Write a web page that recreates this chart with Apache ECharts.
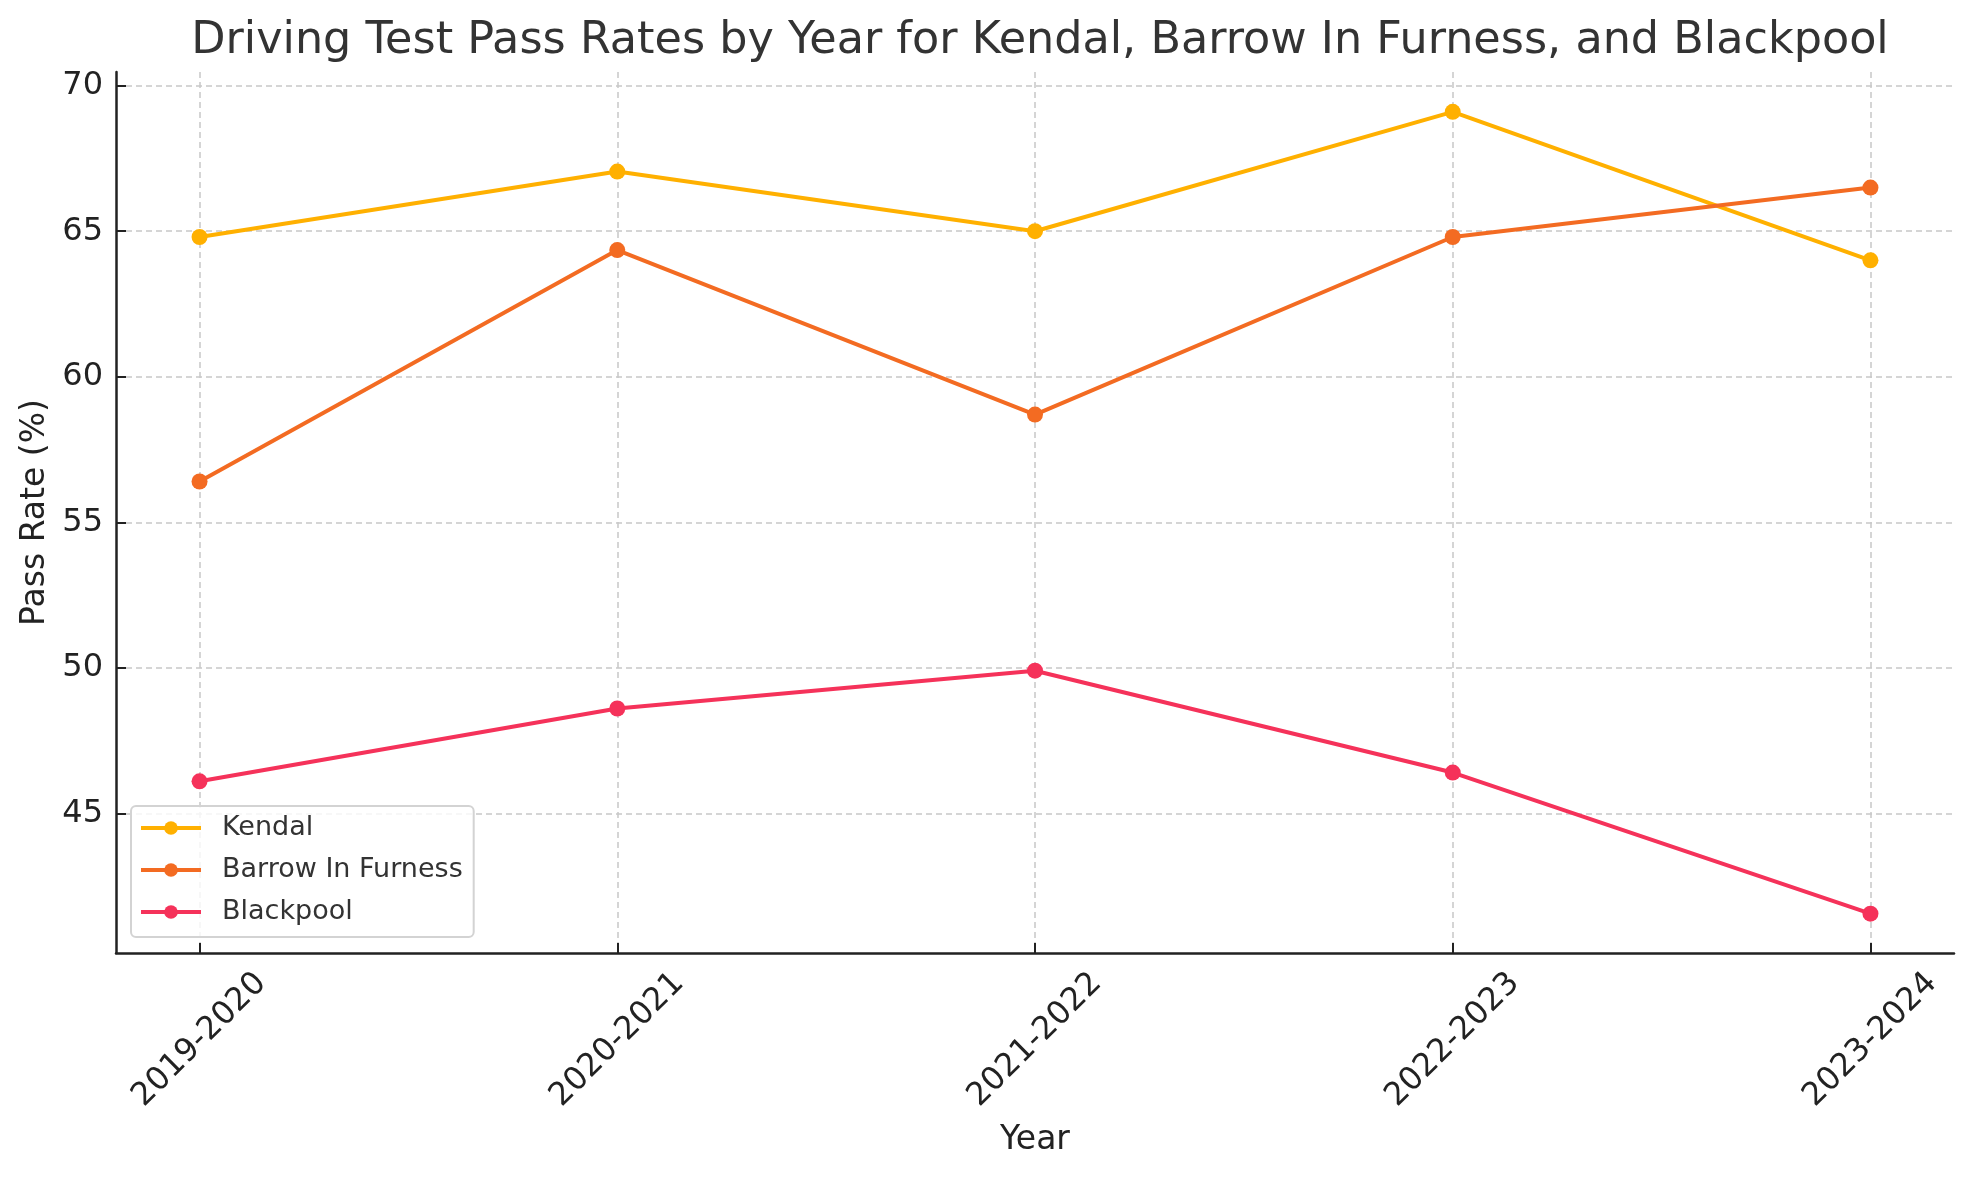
<!DOCTYPE html>
<html>
<head>
<meta charset="utf-8">
<script src="https://cdn.jsdelivr.net/npm/echarts@6/dist/echarts.min.js"></script>
<style>
  html, body { margin: 0; padding: 0; background: #fff; }
  #chart { width: 1974px; height: 1180px; }
</style>
</head>
<body>
<div id="chart"></div>
<script>
// data
const years = ['2019-2020', '2020-2021', '2021-2022', '2022-2023', '2023-2024'];
const kendal = [64.8, 67.05, 65.0, 69.1, 64.0];
const barrow = [56.4, 64.35, 58.7, 64.8, 66.5];
const blackpool = [46.1, 48.6, 49.9, 46.4, 41.55];
const yTicks = [45, 50, 55, 60, 65, 70];
const xTicks = [0, 1, 2, 3, 4];

const font = 'DejaVu Sans';
const colors = ['#ffb000', '#f36b22', '#f5325a'];

function toPoints(arr) {
  return arr.map((v, i) => [i, v]);
}

function makeSeries(name, arr, color) {
  return {
    name: name,
    type: 'line',
    data: toPoints(arr),
    symbol: 'circle',
    symbolSize: 16,
    lineStyle: { width: 4, color: color },
    itemStyle: { color: color },
    emphasis: { disabled: true },
  };
}

const chart = echarts.init(document.getElementById('chart'));
chart.setOption({
  animation: false,
  backgroundColor: '#fff',
  textStyle: { fontFamily: font },
  title: {
    text: 'Driving Test Pass Rates by Year for Kendal, Barrow In Furness, and Blackpool',
    left: 1035,
    textAlign: 'center',
    top: 14,
    textStyle: { fontFamily: font, fontSize: 44.5, fontWeight: 'normal', color: '#333' },
  },
  grid: { left: 116, right: 20, top: 72, bottom: 227, outerBoundsMode: 'none', containLabel: false },
  legend: {
    orient: 'vertical',
    left: 131,
    top: 806,
    itemWidth: 60,
    itemHeight: 17,
    itemGap: 14,
    padding: [8, 11, 11, 8],
    borderColor: '#d3d3d3',
    borderWidth: 2,
    borderRadius: 5,
    backgroundColor: 'rgba(255,255,255,0.8)',
    lineStyle: { width: 4 },
    textStyle: { fontFamily: font, fontSize: 27, color: '#333', lineHeight: 28, padding: [0, 0, 0, 16] },
    data: ['Kendal', 'Barrow In Furness', 'Blackpool'],
  },
  xAxis: {
    type: 'value',
    min: -0.2,
    max: 4.2,
    name: 'Year',
    nameLocation: 'middle',
    nameGap: 171,
    nameMoveOverlap: false,
    nameTextStyle: { fontFamily: font, fontSize: 33, color: '#222' },
    axisLine: { show: true, onZero: false, lineStyle: { color: '#222', width: 2.5 } },
    axisTick: { show: true, inside: true, customValues: xTicks, length: 10, lineStyle: { color: '#222', width: 2 } },
    axisLabel: {
      customValues: xTicks,
      rotate: 45,
      align: 'center',
      verticalAlign: 'middle',
      margin: 87,
      fontFamily: font,
      fontSize: 32,
      color: '#222',
      formatter: (v) => years[Math.round(v)] ?? '',
    },
    splitLine: { show: true, lineStyle: { color: '#c8c8c8', width: 1.5, type: [6, 4] } },
  },
  yAxis: {
    type: 'value',
    min: 40.2,
    max: 70.47,
    name: 'Pass Rate (%)',
    nameLocation: 'middle',
    nameGap: 64,
    nameMoveOverlap: false,
    nameTextStyle: { fontFamily: font, fontSize: 33, color: '#222' },
    axisLine: { show: true, onZero: false, lineStyle: { color: '#222', width: 2.5 } },
    axisTick: { show: true, inside: true, customValues: yTicks, length: 10, lineStyle: { color: '#222', width: 2 } },
    axisLabel: {
      customValues: yTicks,
      margin: 13,
      fontFamily: font,
      fontSize: 32,
      color: '#222',
    },
    splitLine: { show: true, lineStyle: { color: '#c8c8c8', width: 1.5, type: [6, 4] } },
  },
  series: [
    makeSeries('Kendal', kendal, colors[0]),
    makeSeries('Barrow In Furness', barrow, colors[1]),
    makeSeries('Blackpool', blackpool, colors[2]),
  ],
});
</script>
</body>
</html>
